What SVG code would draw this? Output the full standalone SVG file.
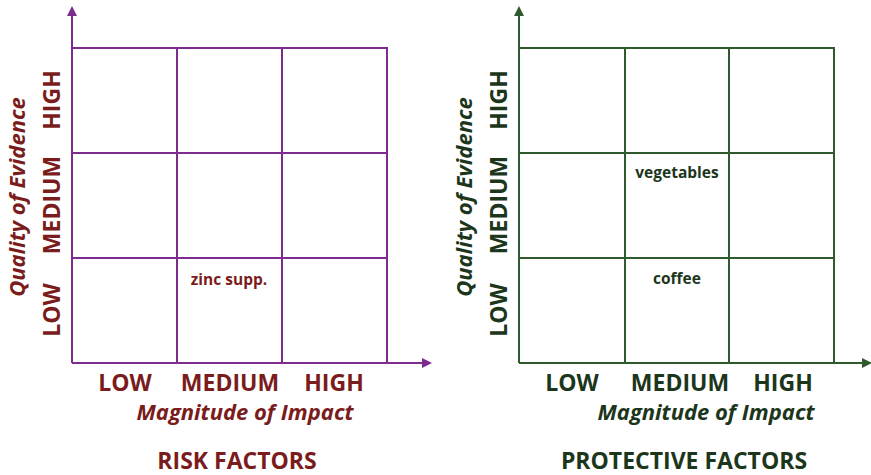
<svg xmlns="http://www.w3.org/2000/svg" width="871" height="475" viewBox="0 0 871 475">
<defs>
<style>
.gp{stroke:#7d2b8e;stroke-width:2;fill:none}
.gg{stroke:#2e5a2e;stroke-width:2;fill:none}
.t{font-family:"Open Sans","Lato",sans-serif;font-weight:bold;text-anchor:middle}
.ax{font-size:23px}
.it{font-family:"Open Sans","Lato",sans-serif;font-style:italic;font-weight:bold;font-size:22px;text-anchor:middle}
.cell{font-size:15.5px}
.r{fill:#7a1c1c}
.g{fill:#1c361c}
</style>
<marker id="ap" markerWidth="10" markerHeight="10" refX="8" refY="5" orient="auto" markerUnits="userSpaceOnUse"><path d="M0,0 L10,5 L0,10 Z" fill="#7d2b8e"/></marker>
<marker id="ag" markerWidth="10" markerHeight="10" refX="8" refY="5" orient="auto" markerUnits="userSpaceOnUse"><path d="M0,0 L10,5 L0,10 Z" fill="#2e5a2e"/></marker>
</defs>
<rect width="871" height="475" fill="#fff"/>
<g id="connectors">
<line class="gp" x1="72" y1="363" x2="72" y2="8" marker-end="url(#ap)"/>
<line class="gp" x1="72" y1="363" x2="430" y2="363" marker-end="url(#ap)"/>
<line class="gg" x1="519" y1="363" x2="519" y2="8" marker-end="url(#ag)"/>
<line class="gg" x1="519" y1="363" x2="870" y2="363" marker-end="url(#ag)"/>
</g>
<g id="risk-grid">
<path class="gp" d="M72,48 H387 V363 M72,153 H387 M72,258 H387 M177,48 V363 M282,48 V363"/>
</g>
<g id="protective-grid">
<path class="gg" d="M519,48 H834 V363 M519,153 H834 M519,258 H834 M625,48 V363 M729,48 V363"/>
</g>
<g id="risk-labels">
<text class="t ax r" transform="translate(60,100) rotate(-90)">HIGH</text>
<text class="t ax r" transform="translate(60,205) rotate(-90)">MEDIUM</text>
<text class="t ax r" transform="translate(60,310) rotate(-90)">LOW</text>
<text class="it r" transform="translate(25,197) rotate(-90)">Quality of Evidence</text>
<text class="t ax r" x="125" y="391">LOW</text>
<text class="t ax r" x="230" y="391">MEDIUM</text>
<text class="t ax r" x="334" y="391">HIGH</text>
<text class="it r" x="245" y="420">Magnitude of Impact</text>
<text class="t ax r" x="237" y="469">RISK FACTORS</text>
</g>
<g id="zinc"><text class="t cell r" x="229" y="285">zinc supp.</text></g>
<g id="protective-labels">
<text class="t ax g" transform="translate(507,100) rotate(-90)">HIGH</text>
<text class="t ax g" transform="translate(507,205) rotate(-90)">MEDIUM</text>
<text class="t ax g" transform="translate(507,310) rotate(-90)">LOW</text>
<text class="it g" transform="translate(472,197) rotate(-90)">Quality of Evidence</text>
<text class="t ax g" x="572" y="391">LOW</text>
<text class="t ax g" x="680" y="391">MEDIUM</text>
<text class="t ax g" x="783" y="391">HIGH</text>
<text class="it g" x="706" y="420">Magnitude of Impact</text>
<text class="t ax g" x="684" y="469">PROTECTIVE FACTORS</text>
</g>
<g id="vegetables"><text class="t cell g" x="677" y="178">vegetables</text></g>
<g id="coffee"><text class="t cell g" x="677" y="284">coffee</text></g>
</svg>
